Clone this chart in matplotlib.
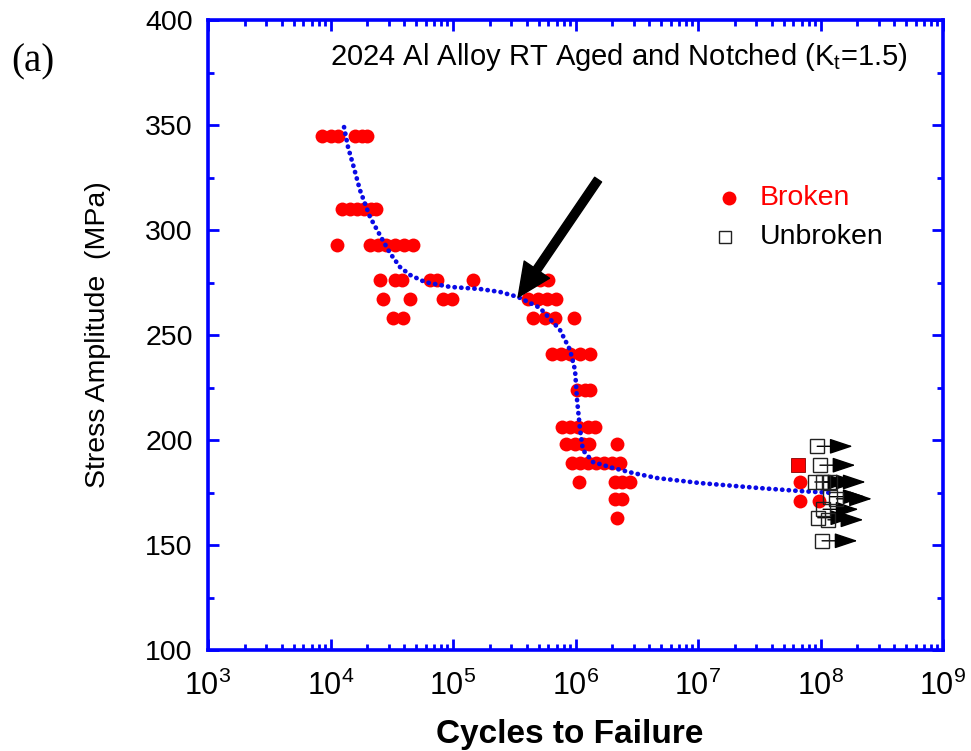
import numpy as np
import matplotlib
matplotlib.use("Agg")
import matplotlib.pyplot as plt
from matplotlib.ticker import FixedLocator, FixedFormatter, MultipleLocator, NullFormatter

plt.rcParams['font.family'] = ['Liberation Sans', 'DejaVu Sans']
plt.rcParams['mathtext.fontset'] = 'custom'
plt.rcParams['mathtext.rm'] = 'Liberation Sans'
plt.rcParams['mathtext.it'] = 'Liberation Sans:italic'
plt.rcParams['mathtext.bf'] = 'Liberation Sans:bold'

# Broken specimens, grouped by stress amplitude level (MPa)
broken_levels = [345, 310, 293, 276, 267, 258, 241, 224, 206, 198, 189, 180, 172, 171, 163]
broken_cycles = [
    [8.5e3, 1.0e4, 1.15e4, 1.58e4, 1.8e4, 2.0e4],
    [1.24e4, 1.44e4, 1.64e4, 1.87e4, 2.14e4, 2.35e4],
    [1.13e4, 2.1e4, 2.44e4, 2.84e4, 3.36e4, 3.98e4, 4.71e4],
    [2.54e4, 3.36e4, 3.84e4, 6.5e4, 7.4e4, 1.46e5, 4.26e5, 5.13e5, 5.96e5],
    [2.68e4, 4.46e4, 8.3e4, 9.8e4, 4.1e5, 4.94e5, 5.85e5, 6.92e5],
    [3.24e4, 3.9e4, 4.5e5, 5.63e5, 6.8e5, 9.7e5],
    [6.43e5, 7.6e5, 9.0e5, 1.09e6, 1.31e6],
    [1.03e6, 1.2e6, 1.31e6],
    [7.76e5, 9.0e5, 1.05e6, 1.26e6, 1.44e6],
    [8.36e5, 9.9e5, 1.15e6, 1.29e6, 2.18e6],
    [9.35e5, 1.09e6, 1.26e6, 1.47e6, 1.71e6, 1.99e6, 2.31e6],
    [1.07e6, 2.1e6, 2.4e6, 2.79e6, 6.8e7],
    [2.1e6, 2.4e6],
    [6.8e7, 9.7e7],
    [2.18e6],
]

# Broken specimen plotted with a square symbol
broken_sq_stress = [188]
broken_sq_cycles = [6.55e7]

# Run-out (unbroken) specimens
runout_stress = [197, 188, 180, 180, 180, 173, 172, 167, 163, 162, 152]
runout_cycles = [9.4e7, 9.9e7, 9.0e7, 1.05e8, 1.2e8, 1.2e8, 1.35e8, 1.05e8, 9.5e7, 1.15e8, 1.03e8]

# Fitted S-N curve
fit_cycles = [1.29e4, 1.39e4, 1.53e4, 1.74e4, 2.10e4, 2.53e4, 3.06e4, 3.69e4, 4.46e4,
              5.91e4, 9.45e4, 1.66e5, 2.42e5, 3.40e5, 5.13e5, 7.47e5, 9.02e5, 9.91e5,
              1.03e6, 1.09e6, 1.15e6, 1.39e6, 2.02e6, 2.94e6, 4.62e6, 1.04e7, 3.2e7,
              6.8e7, 1.26e8]
fit_stress = [349.0, 339.5, 331.0, 319.0, 306.2, 297.6, 289.0, 282.4, 278.6,
              275.2, 272.9, 271.9, 270.5, 268.1, 262.9, 252.4, 242.9, 233.3,
              219.0, 204.8, 195.2, 189.5, 186.7, 184.3, 181.9, 179.5, 177.1,
              175.7, 174.8]

# Pointer arrow (tail, head)
pointer_cycles = [1.53e6, 3.4e5]
pointer_stress = [324, 268]

# Axis ticks
x_exponents = [3, 4, 5, 6, 7, 8, 9]
x_tick_labels = [r'$\mathdefault{10^{%d}}$' % e for e in x_exponents]

W, H = 971, 751
fig = plt.figure(figsize=(W / 100, H / 100), dpi=100)
ax = fig.add_axes([208 / W, 1 - 650 / H, 735 / W, 630 / H])

blue = '#0000ff'
red = '#ff0000'

# Fitted curve as a dotted blue line
ax.plot(fit_cycles, fit_stress, color='#0a0ae6', lw=3.4,
        linestyle=(0, (0.05, 1.35)), dash_capstyle='round', zorder=4)

# Broken specimens
bx, by = [], []
for s, cyc in zip(broken_levels, broken_cycles):
    bx.extend(cyc)
    by.extend([s] * len(cyc))
ax.plot(bx, by, 'o', color=red, ms=10, mec='none', zorder=3)
ax.plot(broken_sq_cycles, broken_sq_stress, 's', color=red, ms=9.5,
        mec='#880000', mew=0.6, zorder=3)

# Run-outs: open squares with arrows
for n, s in zip(runout_cycles, runout_stress):
    ax.annotate('', xy=(n * 1.95, s), xytext=(n, s),
                arrowprops=dict(arrowstyle='-|>,head_length=0.9,head_width=0.3',
                                color='black', lw=1.0, shrinkA=0, shrinkB=0,
                                mutation_scale=16),
                zorder=5)
ax.plot(runout_cycles, runout_stress, 's', mfc='none', mec='#222222', ms=10,
        mew=1.0, zorder=6)

# Pointer arrow
ax.annotate('', xy=(pointer_cycles[1], pointer_stress[1]),
            xytext=(pointer_cycles[0], pointer_stress[0]),
            arrowprops=dict(facecolor='black', edgecolor='black', width=6,
                            headwidth=22, headlength=24, shrink=0),
            zorder=7)

ax.set_xscale('log')
ax.set_xlim(1e3, 1e9)
ax.set_ylim(100, 400)
ax.xaxis.set_major_locator(FixedLocator([10.0 ** e for e in x_exponents]))
ax.xaxis.set_major_formatter(FixedFormatter(x_tick_labels))
ax.xaxis.set_minor_locator(FixedLocator(
    [m * 10.0 ** e for e in x_exponents[:-1] for m in range(2, 10)]))
ax.xaxis.set_minor_formatter(NullFormatter())
ax.yaxis.set_major_locator(MultipleLocator(50))
ax.yaxis.set_minor_locator(MultipleLocator(25))

for sp in ax.spines.values():
    sp.set_color(blue)
    sp.set_linewidth(2.6)
ax.tick_params(which='both', direction='in', top=True, right=True, color=blue)
ax.tick_params(which='major', length=8, width=2)
ax.tick_params(which='minor', length=4.5, width=2)
ax.tick_params(axis='x', which='major', labelsize=22, pad=15)
ax.tick_params(axis='y', which='major', labelsize=20.5, pad=11)

# Title inside the frame
ax.text(0.166, 0.941, r'2024 Al Alloy RT Aged and Notched (K$_{\mathrm{t}}$=1.5)',
        transform=ax.transAxes, ha='left', va='center', fontsize=21)

# Legend
ax.plot([0.709], [0.717], 'o', color=red, ms=10, mec='none',
        transform=ax.transAxes, clip_on=False)
ax.plot([0.703], [0.656], 's', mfc='none', mec='#222222', ms=9, mew=1.0,
        transform=ax.transAxes, clip_on=False)
ax.text(0.751, 0.717, 'Broken', color=red, fontsize=20.5, va='center', ha='left',
        transform=ax.transAxes)
ax.text(0.751, 0.656, 'Unbroken', color='black', fontsize=20.5, va='center', ha='left',
        transform=ax.transAxes)

fig.text(98 / W, 1 - 335 / H, 'Stress Amplitude  (MPa)', rotation=90,
         ha='center', va='center', fontsize=20.5)
fig.text(570 / W, 1 - 734 / H, 'Cycles to Failure', ha='center', va='center',
         fontsize=24, fontweight='bold')
fig.text(33 / W, 1 - 62 / H, '(a)', ha='center', va='center', fontsize=28,
         family='Liberation Serif')

fig.savefig('out.png', dpi=100)
